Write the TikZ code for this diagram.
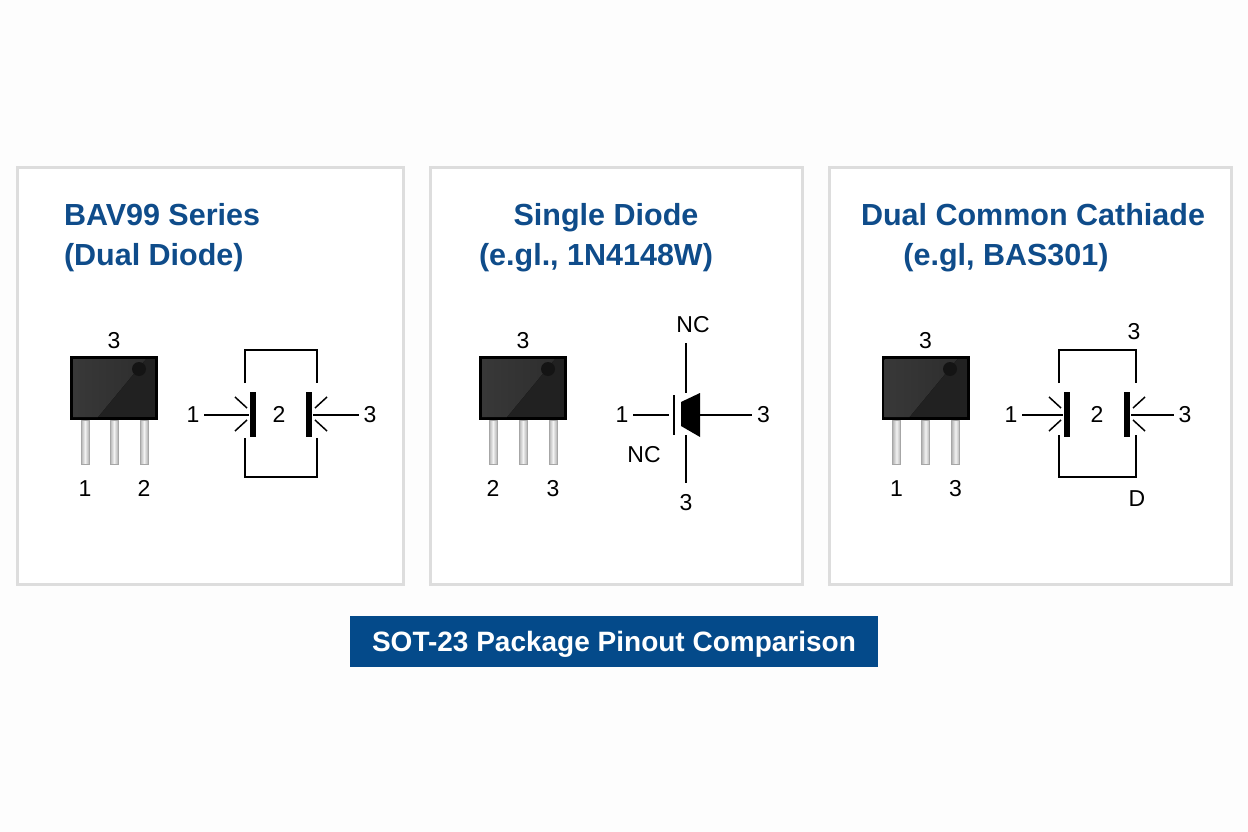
\documentclass[tikz,border=0pt]{standalone}
\usepackage{fontspec}
\setmainfont{Liberation Sans}
\usetikzlibrary{positioning, calc}

\definecolor{panelgray}{HTML}{DDDDDD}
\definecolor{titleblue}{HTML}{0F4C8A}
\definecolor{bannerblue}{HTML}{044A8A}

\begin{document}
\begin{tikzpicture}[x=1pt, y=-1pt, on grid, line width=2pt,
    panel/.style={rectangle, draw=panelgray, line width=3pt, fill=white},
    heading/.style={text=titleblue, font=\fontsize{30.5}{34}\selectfont\bfseries, inner sep=0pt, text height=22pt, text depth=6pt},
    pinlabel/.style={font=\fontsize{23}{27}\selectfont, inner sep=0pt, outer sep=5pt, text height=16pt, text depth=0pt},
    package/.style={rectangle, draw=black, line width=3pt, fill=black!87, minimum width=85pt, minimum height=61pt},
    facet/.style={left color=black!78, right color=black!82},
    marker/.style={circle, fill=black!92, inner sep=0pt, minimum size=14pt},
    pinbar/.style={rectangle, draw=black!35, line width=0.6pt, left color=black!30, right color=black!30, middle color=black!5, minimum width=8pt, minimum height=44pt},
    plate/.style={rectangle, fill=black, inner sep=0pt, minimum width=6pt, minimum height=45pt},
    tick/.style={line width=1.5pt}]

    \useasboundingbox (0,0) rectangle (1248,832);
    \fill [black!0.7] (0,0) rectangle (1248,832);

    % Three panels and the banner
    \node (panelA) [panel, minimum width=386pt, minimum height=416pt] at (210,376) {};
    \node (panelB) [panel, minimum width=372pt, minimum height=416pt] at (616,376) {};
    \node (panelC) [panel, minimum width=402pt, minimum height=416pt] at (1030,376) {};
    \node (banner) [fill=bannerblue, text=white, font=\fontsize{28}{32}\selectfont\bfseries, text height=20pt, text depth=0pt, minimum width=528pt, minimum height=51pt] at (614,641.5) {SOT-23 Package Pinout Comparison};

    % Headings
    \node (titleA) [heading, anchor=west] at (63,217) {BAV99 Series};
    \node (subA) [heading, anchor=west] at (63,257) {(Dual Diode)};
    \node (titleB) [heading] at (606,217) {Single Diode};
    \node (subB) [heading] at (596,257) {(e.gl., 1N4148W)};
    \node (titleC) [heading] at (1033,217) {Dual Common Cathiade};
    \node (subC) [heading] at (1006,257) {(e.gl, BAS301)};

    % Package of the first panel
    \node (pkgA) [package] at (114,388) {};
    \fill [facet] ($(pkgA.north west)+(3,3)$) -- ($(pkgA.north east)+(-12,3)$) -- ($(pkgA.south west)+(28,-3)$) -- ($(pkgA.south west)+(3,-3)$) -- cycle;
    \node (dotA) [marker] at (139,369) {};
    \node (pinA2) [pinbar, below=54pt of pkgA] {};
    \node (pinA1) [pinbar, left=29pt of pinA2] {};
    \node (pinA3) [pinbar, right=30pt of pinA2] {};
    \node (topA) [pinlabel, above=48pt of pkgA] {3};
    \node (numA1) [pinlabel, below=46pt of pinA1] {1};
    \node (numA3) [pinlabel, below=46pt of pinA3] {2};

    % Symbol of the first panel
    \node (plateA1) [plate] at (253,414.5) {};
    \node (plateA2) [plate, right=56pt of plateA1] {};
    \node (midA) [pinlabel, right=26pt of plateA1] {2};
    \node (leadA1) [pinlabel, left=60pt of plateA1] {1};
    \node (leadA3) [pinlabel, right=61pt of plateA2] {3};
    \coordinate (wireA1) at (245,383);
    \coordinate (wireA2) at (317,383);
    \coordinate (wireA3) at (245,438);
    \coordinate (wireA4) at (317,438);
    \draw (leadA1) -- (plateA1);
    \draw (leadA3) -- (plateA2);
    \draw (wireA1) -- ++(0,-33) -| (wireA2);
    \draw (wireA3) -- ++(0,39) -| (wireA4);
    \draw [tick] ($(plateA1)+(-18,-17.5)$) -- ++(12,11);
    \draw [tick] ($(plateA1)+(-18,16.5)$) -- ++(12,-11);
    \draw [tick] ($(plateA2)+(18,-17.5)$) -- ++(-12,11);
    \draw [tick] ($(plateA2)+(18,16.5)$) -- ++(-12,-11);

    % Package of the second panel
    \node (pkgB) [package] at (523,388) {};
    \fill [facet] ($(pkgB.north west)+(3,3)$) -- ($(pkgB.north east)+(-12,3)$) -- ($(pkgB.south west)+(28,-3)$) -- ($(pkgB.south west)+(3,-3)$) -- cycle;
    \node (dotB) [marker] at (548,369) {};
    \node (pinB2) [pinbar, below=54pt of pkgB] {};
    \node (pinB1) [pinbar, left=30pt of pinB2] {};
    \node (pinB3) [pinbar, right=30pt of pinB2] {};
    \node (topB) [pinlabel, above=48pt of pkgB] {3};
    \node (numB1) [pinlabel, below=46pt of pinB1] {2};
    \node (numB3) [pinlabel, below=46pt of pinB3] {3};

    % Symbol of the second panel
    \node (barB) [rectangle, fill=black, inner sep=0pt, minimum width=2.5pt, minimum height=40pt] at (674,414.5) {};
    \fill (681,402) -- (700,393) -- (700,437) -- (681,426) -- cycle;
    \coordinate (tipB) at (700,414.5);
    \coordinate (stubB1) at (686,393);
    \coordinate (stubB2) at (686,435);
    \node (leadB1) [pinlabel, left=52pt of barB] {1};
    \node (leadB3) [pinlabel, right=52pt of tipB] {3};
    \node (ncB1) [pinlabel] at (693,324) {NC};
    \node (ncB2) [pinlabel] at (644,454) {NC};
    \node (leadB5) [pinlabel] at (686,502) {3};
    \coordinate (stubB3) at (686,343);
    \draw [shorten >=3pt] (leadB1) -- (barB);
    \draw (tipB) -- (leadB3);
    \draw (stubB3) -- (stubB1);
    \draw [shorten >=6pt] (stubB2) -- (leadB5);

    % Package of the third panel
    \node (pkgC) [package] at (925.5,388) {};
    \fill [facet] ($(pkgC.north west)+(3,3)$) -- ($(pkgC.north east)+(-12,3)$) -- ($(pkgC.south west)+(28,-3)$) -- ($(pkgC.south west)+(3,-3)$) -- cycle;
    \node (dotC) [marker] at (950,369) {};
    \node (pinC2) [pinbar, below=54pt of pkgC] {};
    \node (pinC1) [pinbar, left=29pt of pinC2] {};
    \node (pinC3) [pinbar, right=30pt of pinC2] {};
    \node (topC) [pinlabel, above=48pt of pkgC] {3};
    \node (numC1) [pinlabel, below=46pt of pinC1] {1};
    \node (numC3) [pinlabel, below=46pt of pinC3] {3};

    % Symbol of the third panel
    \node (plateC1) [plate] at (1067,414.5) {};
    \node (plateC2) [plate, right=60pt of plateC1] {};
    \node (midC) [pinlabel, right=30pt of plateC1] {2};
    \node (leadC1) [pinlabel, left=56pt of plateC1] {1};
    \node (leadC3) [pinlabel, right=58pt of plateC2] {3};
    \node (capC) [pinlabel] at (1134,331) {3};
    \node (footC) [pinlabel] at (1137,498) {D};
    \coordinate (wireC1) at (1059,383);
    \coordinate (wireC2) at (1136,383);
    \coordinate (wireC3) at (1059,435);
    \coordinate (wireC4) at (1136,435);
    \draw (leadC1) -- (plateC1);
    \draw (leadC3) -- (plateC2);
    \draw (wireC1) -- ++(0,-33) -| (wireC2);
    \draw (wireC3) -- ++(0,42) -| (wireC4);
    \draw [tick] ($(plateC1)+(-18,-17.5)$) -- ++(12,11);
    \draw [tick] ($(plateC1)+(-18,16.5)$) -- ++(12,-11);
    \draw [tick] ($(plateC2)+(18,-17.5)$) -- ++(-12,11);
    \draw [tick] ($(plateC2)+(18,16.5)$) -- ++(-12,-11);
\end{tikzpicture}
\end{document}
